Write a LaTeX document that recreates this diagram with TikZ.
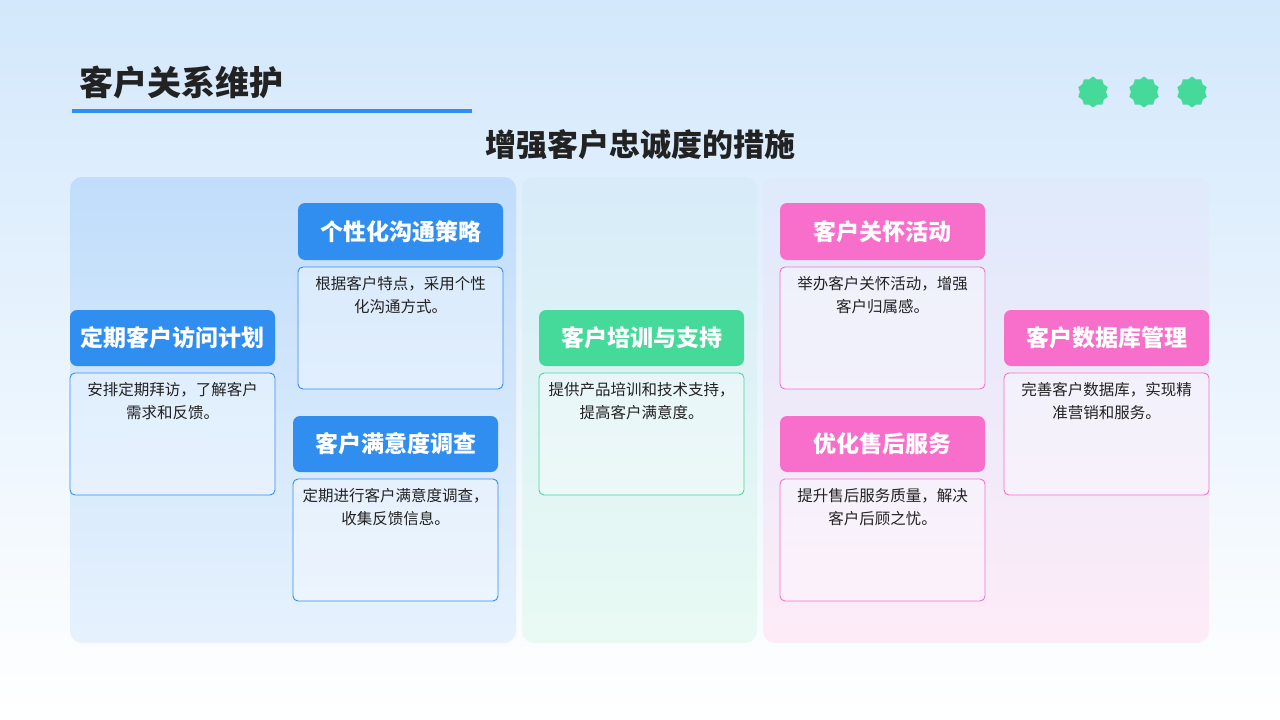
\documentclass[tikz,border=0pt]{standalone}
\usepackage{fontspec}
\setmainfont{Noto Sans CJK SC}
\usetikzlibrary{shapes.geometric}
\definecolor{bgtop}{HTML}{D3E8FC}
\definecolor{cblue}{HTML}{2F8EF0}
\definecolor{cgreen}{HTML}{45D99A}
\definecolor{cpink}{HTML}{F76FCB}
\definecolor{ink}{HTML}{222222}
\tikzset{
  hdr/.style={rounded corners=7pt,fill=#1},
  bdy/.style={rounded corners=5pt,draw=#1,fill=white,fill opacity=0.35,line width=0.9pt},
  htxt/.style={text=white,font=\fontsize{23}{26}\selectfont\bfseries},
  btxt/.style={text=ink,font=\fontsize{15.5}{23}\selectfont,align=center,anchor=north},
  dot/.style={star,star points=10,star point ratio=1.18,fill=cgreen,minimum size=31pt,inner sep=0pt}
}
\newcommand{\card}[7]{% name x1 y1 hy2 col title body
  \fill[hdr=#5] (#2,#3) rectangle (#2+205,#4);
  \node[htxt] (#1h) at (#2+102.5,{(#3+#4)/2}) {#6};
  \draw[bdy=#5] (#2,#4+7) rectangle (#2+205,#4+129);
  \node[btxt] (#1b) at (#2+102.5,#4+13) {#7};
}
\begin{document}
\begin{tikzpicture}[x=1pt,y=-1pt]
\useasboundingbox (0,0) rectangle (1280,720);
\shade[top color=bgtop,bottom color=white] (0,0) rectangle (1280,720);
\node[anchor=west,text=ink,font=\fontsize{34}{38}\selectfont\bfseries] (title) at (76,82) {客户关系维护};
\fill[cblue] (72,109) rectangle (472,113);
\node[text=ink,font=\fontsize{31}{34}\selectfont\bfseries] (sub) at (640,145) {增强客户忠诚度的措施};
\node[dot] (d1) at (1093,92) {};
\node[dot] (d2) at (1144,92) {};
\node[dot] (d3) at (1192,92) {};
\shade[rounded corners=12pt,top color=cblue!30,bottom color=cblue!12] (70,177) rectangle (516,643);
\shade[rounded corners=12pt,top color=cgreen!22!cblue!20,bottom color=cgreen!12] (522,177) rectangle (757,643);
\shade[rounded corners=12pt,top color=cpink!15!cblue!18,bottom color=cpink!14] (763,177) rectangle (1209,643);
\card{a}{70}{310}{366}{cblue}{定期客户访问计划}{安排定期拜访，了解客户\\需求和反馈。}
\card{b}{298}{203}{260}{cblue}{个性化沟通策略}{根据客户特点，采用个性\\化沟通方式。}
\card{c}{293}{416}{472}{cblue}{客户满意度调查}{定期进行客户满意度调查，\\收集反馈信息。}
\card{d}{539}{310}{366}{cgreen}{客户培训与支持}{提供产品培训和技术支持，\\提高客户满意度。}
\card{e}{780}{203}{260}{cpink}{客户关怀活动}{举办客户关怀活动，增强\\客户归属感。}
\card{f}{780}{416}{472}{cpink}{优化售后服务}{提升售后服务质量，解决\\客户后顾之忧。}
\card{g}{1004}{310}{366}{cpink}{客户数据库管理}{完善客户数据库，实现精\\准营销和服务。}
\end{tikzpicture}
\end{document}
